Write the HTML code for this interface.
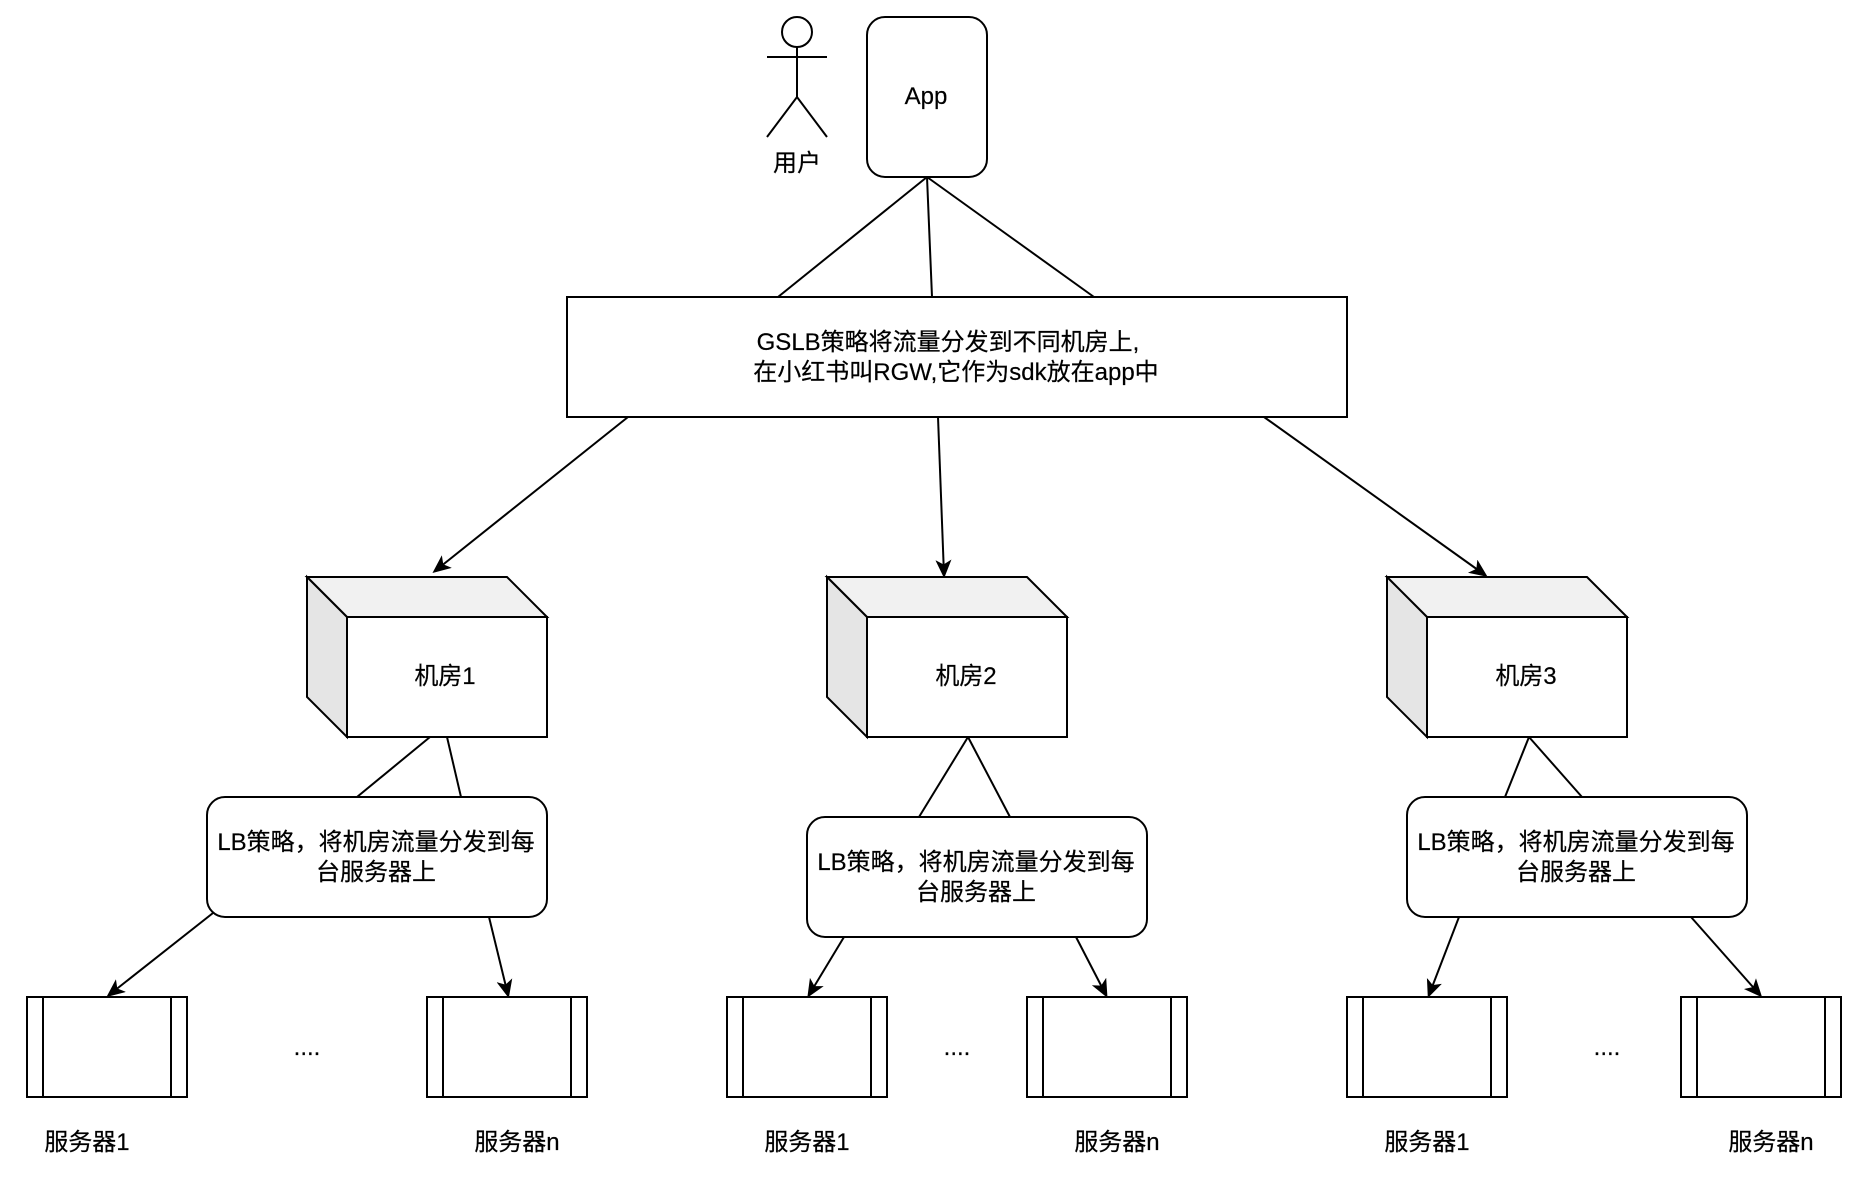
<!DOCTYPE html>
<html><head><meta charset="utf-8"><style>
html,body{margin:0;padding:0;background:#fff;width:1858px;height:1190px;overflow:hidden}
svg{display:block}
text{font-family:"Liberation Sans","Noto Sans CJK SC",sans-serif;font-size:24px;fill:#000;text-anchor:middle;stroke:#000;stroke-width:.2}
.s{fill:none;stroke:#000;stroke-width:2}
.b{fill:#fff;stroke:#000;stroke-width:2}
.a{marker-end:url(#ah)}
</style></head><body>
<svg xmlns="http://www.w3.org/2000/svg" width="1858" height="1190" viewBox="0 0 1858 1190">
<defs><marker id="ah" markerUnits="userSpaceOnUse" markerWidth="20" markerHeight="20" refX="15" refY="9" orient="auto"><path d="M1,2 L17,9 L1,16 L5,9Z" fill="#000" stroke="#000" stroke-width="1"/></marker></defs>

<!-- connectors -->
<g class="s">
<line x1="927" y1="177" x2="778" y2="297"/><line x1="927" y1="177" x2="932" y2="297"/><line x1="927" y1="177" x2="1094" y2="297"/>
<line class="a" x1="628" y1="417" x2="435" y2="571"/>
<line class="a" x1="938" y1="417" x2="944" y2="575"/>
<line class="a" x1="1264" y1="417" x2="1485" y2="575"/>
<line x1="430" y1="737" x2="357" y2="797"/><line x1="447" y1="737" x2="461" y2="797"/>
<line x1="968" y1="737" x2="919" y2="817"/><line x1="968" y1="737" x2="1010" y2="817"/>
<line x1="1529" y1="737" x2="1505" y2="797"/><line x1="1529" y1="737" x2="1582" y2="797"/>
<line class="a" x1="213" y1="913" x2="109" y2="995"/>
<line class="a" x1="489" y1="917" x2="508" y2="995"/>
<line class="a" x1="844" y1="937" x2="809" y2="995"/>
<line class="a" x1="1076" y1="937" x2="1106" y2="995"/>
<line class="a" x1="1459" y1="917" x2="1429" y2="995"/>
<line class="a" x1="1691" y1="917" x2="1760" y2="995"/>
</g>

<!-- actor -->
<g class="s">
<circle cx="797" cy="32" r="15"/>
<line x1="797" y1="47" x2="797" y2="97"/>
<line x1="767" y1="57" x2="827" y2="57"/>
<path d="M767,137 L797,97 L827,137"/>
</g>
<text x="797" y="171">用户</text>

<!-- app -->
<rect class="b" x="867" y="17" width="120" height="160" rx="18" ry="18"/>
<text x="926" y="104">App</text>

<!-- gslb -->
<rect class="b" x="567" y="297" width="780" height="120"/>
<text x="948" y="350">GSLB策略将流量分发到不同机房上,</text>
<text x="956" y="380">在小红书叫RGW,它作为sdk放在app中</text>

<!-- cubes -->
<g>
<path d="M307,577 H507 L547,617 H347Z" fill="#f1f1f1" stroke="#000" stroke-width="2"/>
<path d="M307,577 L347,617 V737 L307,697Z" fill="#e5e5e5" stroke="#000" stroke-width="2"/>
<rect class="b" x="347" y="617" width="200" height="120"/>
</g>
<text x="445" y="684">机房1</text>
<g>
<path d="M827,577 H1027 L1067,617 H867Z" fill="#f1f1f1" stroke="#000" stroke-width="2"/>
<path d="M827,577 L867,617 V737 L827,697Z" fill="#e5e5e5" stroke="#000" stroke-width="2"/>
<rect class="b" x="867" y="617" width="200" height="120"/>
</g>
<text x="966" y="684">机房2</text>
<g>
<path d="M1387,577 H1587 L1627,617 H1427Z" fill="#f1f1f1" stroke="#000" stroke-width="2"/>
<path d="M1387,577 L1427,617 V737 L1387,697Z" fill="#e5e5e5" stroke="#000" stroke-width="2"/>
<rect class="b" x="1427" y="617" width="200" height="120"/>
</g>
<text x="1526" y="684">机房3</text>

<!-- LB -->
<rect class="b" x="207" y="797" width="340" height="120" rx="18" ry="18"/>
<text x="376" y="850">LB策略，将机房流量分发到每</text>
<text x="376" y="880">台服务器上</text>
<rect class="b" x="807" y="817" width="340" height="120" rx="18" ry="18"/>
<text x="976" y="870">LB策略，将机房流量分发到每</text>
<text x="976" y="900">台服务器上</text>
<rect class="b" x="1407" y="797" width="340" height="120" rx="18" ry="18"/>
<text x="1576" y="850">LB策略，将机房流量分发到每</text>
<text x="1576" y="880">台服务器上</text>

<!-- servers -->
<g class="s" style="fill:#fff">
<rect x="27" y="997" width="160" height="100"/><path d="M43,997V1097M171,997V1097"/>
<rect x="427" y="997" width="160" height="100"/><path d="M443,997V1097M571,997V1097"/>
<rect x="727" y="997" width="160" height="100"/><path d="M743,997V1097M871,997V1097"/>
<rect x="1027" y="997" width="160" height="100"/><path d="M1043,997V1097M1171,997V1097"/>
<rect x="1347" y="997" width="160" height="100"/><path d="M1363,997V1097M1491,997V1097"/>
<rect x="1681" y="997" width="160" height="100"/><path d="M1697,997V1097M1825,997V1097"/>
</g>
<text x="307" y="1055">....</text>
<text x="957" y="1055">....</text>
<text x="1607" y="1055">....</text>
<text x="87" y="1150">服务器1</text>
<text x="517" y="1150">服务器n</text>
<text x="807" y="1150">服务器1</text>
<text x="1117" y="1150">服务器n</text>
<text x="1427" y="1150">服务器1</text>
<text x="1771" y="1150">服务器n</text>
</svg>
</body></html>
